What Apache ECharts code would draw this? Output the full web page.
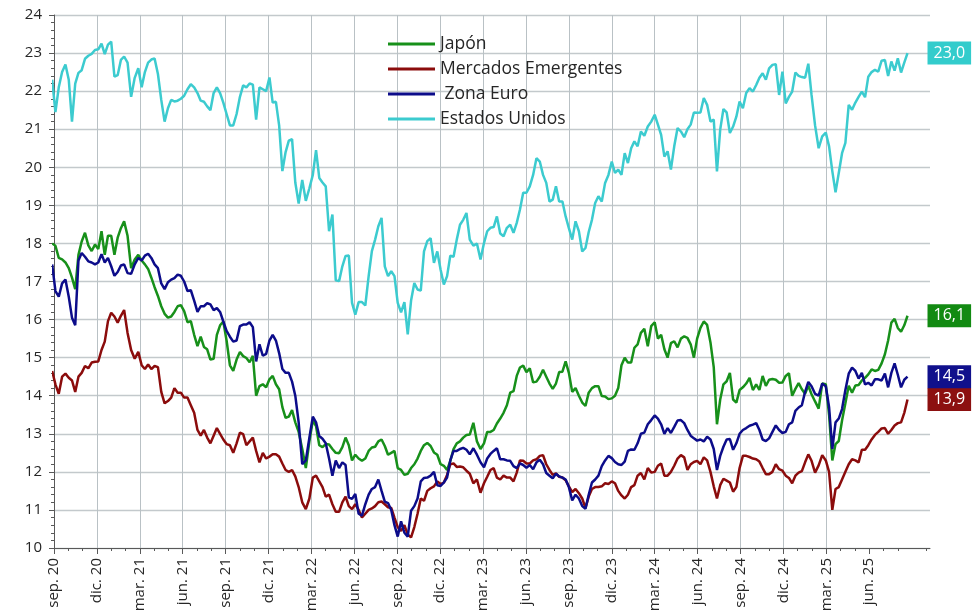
<!DOCTYPE html>
<html>
<head>
<meta charset="utf-8">
<script src="https://cdn.jsdelivr.net/npm/echarts@6/dist/echarts.min.js"></script>
<style>html,body{margin:0;padding:0;background:#fff}#c{width:975px;height:615px}</style>
</head>
<body>
<div id="c"></div>
<script>
// Weekly observations starting 2020-08-28
const startDate = '2020-08-28';
const weekCount = 261;

const quarterLabels = ['sep. 20','dic. 20','mar. 21','jun. 21','sep. 21','dic. 21','mar. 22','jun. 22','sep. 22','dic. 22',
  'mar. 23','jun. 23','sep. 23','dic. 23','mar. 24','jun. 24','sep. 24','dic. 24','mar. 25','jun. 25'];

const seriesNames = ['Japón', 'Mercados Emergentes', ' Zona Euro', 'Estados Unidos'];

const japon = [
18.0,17.94,17.62,17.58,17.5,17.35,17.1,16.8,17.7,18.05,
18.28,17.95,17.8,17.97,17.85,18.32,17.7,18.2,18.2,17.7,
18.15,18.4,18.58,18.2,17.35,17.58,17.7,17.55,17.45,17.33,
17.1,16.85,16.62,16.35,16.15,16.05,16.08,16.2,16.35,16.38,
16.22,15.93,15.96,15.6,15.3,15.55,15.28,15.22,14.95,14.97,
15.6,15.85,15.95,15.45,14.8,14.65,14.95,15.15,15.04,14.99,
14.88,15.05,14.0,14.25,14.3,14.22,14.43,14.52,14.3,14.17,
13.7,13.42,13.45,13.62,13.3,13.05,12.6,12.1,12.8,13.35,
13.2,12.7,12.65,12.73,12.72,12.6,12.5,12.49,12.65,12.9,
12.7,12.3,12.45,12.35,12.29,12.35,12.55,12.64,12.66,12.8,
12.85,12.68,12.45,12.5,12.55,12.1,12.05,11.92,11.95,12.1,
12.2,12.35,12.55,12.7,12.76,12.68,12.51,12.45,12.2,12.16,
12.05,12.29,12.6,12.75,12.8,12.9,12.97,12.98,13.29,12.8,
12.6,12.75,13.05,13.05,13.1,13.27,13.4,13.55,13.75,14.08,
14.12,14.52,14.74,14.79,14.62,14.72,14.35,14.37,14.5,14.68,
14.5,14.32,14.18,14.32,14.62,14.63,14.9,14.6,14.1,14.2,
14.0,13.82,13.73,14.08,14.2,14.25,14.25,13.99,13.98,13.91,
13.93,14.0,14.2,14.8,15.0,14.87,14.87,15.26,15.35,15.65,
15.76,15.30,15.83,15.93,15.5,15.6,15.22,15.0,15.38,15.43,
15.27,15.5,15.56,15.52,15.35,15.0,15.5,15.78,15.95,15.86,
15.4,14.75,13.25,13.9,14.3,14.38,14.6,13.9,13.82,14.15,
14.22,14.32,14.47,14.15,14.3,14.15,14.52,14.26,14.42,14.44,
14.42,14.34,14.35,14.52,14.59,14.0,14.18,14.33,14.17,14.05,
14.26,14.04,13.85,13.66,14.32,14.3,13.5,12.3,12.73,12.81,
13.35,13.8,14.26,14.08,14.27,14.28,14.4,14.47,14.56,14.69,
14.65,14.68,14.85,15.09,15.45,15.92,16.02,15.78,15.68,15.85,
16.1];

const emergentes = [
14.65,14.3,14.05,14.5,14.58,14.47,14.4,14.1,14.5,14.6,
14.78,14.72,14.87,14.89,14.9,15.2,15.42,15.96,16.18,16.08,
15.92,16.1,16.25,15.65,15.2,14.97,15.15,14.8,14.7,14.82,
14.7,14.78,14.75,14.1,13.8,13.86,13.95,14.2,14.08,14.08,
13.95,13.95,13.75,13.55,13.1,12.95,13.1,12.9,12.75,12.95,
13.15,13.0,12.85,12.73,12.7,12.5,12.75,13.03,12.99,12.7,
12.8,12.9,12.55,12.25,12.5,12.35,12.4,12.46,12.46,12.4,
12.22,12.05,12.0,12.05,11.88,11.6,11.2,11.02,11.3,11.85,
11.9,11.75,11.6,11.35,11.4,11.15,10.95,10.95,11.2,11.35,
11.1,11.02,11.15,11.0,10.8,10.9,11.0,11.04,11.1,11.2,
11.22,11.15,11.07,11.05,10.8,10.55,10.45,10.6,10.35,10.28,
10.55,10.9,11.3,11.24,11.5,11.57,11.62,11.75,11.68,11.72,
11.92,12.2,12.22,12.13,12.14,12.12,12.03,11.95,11.7,11.8,
11.45,11.7,11.87,12.05,12.1,11.85,11.8,11.9,11.85,11.85,
11.75,11.98,12.3,12.29,12.22,12.22,12.3,12.33,12.42,12.44,
12.2,12.05,11.92,11.96,11.87,11.85,11.78,11.62,11.47,11.55,
11.44,11.3,11.05,11.35,11.55,11.6,11.6,11.62,11.7,11.68,
11.75,11.7,11.5,11.38,11.3,11.4,11.6,11.65,11.9,11.97,
11.8,12.1,11.98,12.0,12.16,12.22,11.9,11.9,12.0,12.16,
12.35,12.44,12.38,12.05,12.2,12.26,12.29,12.2,12.38,12.3,
12.0,11.62,11.3,11.65,11.82,11.77,11.72,11.48,11.6,12.1,
12.42,12.42,12.39,12.35,12.33,12.27,12.1,11.94,11.94,12.0,
12.2,12.07,12.03,11.9,11.84,11.7,11.9,11.98,12.02,12.25,
12.46,12.29,11.98,12.17,12.44,12.3,12.0,11.0,11.55,11.6,
11.8,12.0,12.2,12.33,12.3,12.25,12.58,12.58,12.7,12.85,
12.97,13.05,13.14,13.15,13.0,13.1,13.22,13.28,13.3,13.55,
13.9];

const zonaEuro = [
17.45,16.75,16.6,16.95,17.05,16.6,16.05,15.85,17.55,17.75,
17.65,17.53,17.5,17.45,17.5,17.72,17.5,17.62,17.4,17.15,
17.25,17.42,17.45,17.22,17.2,17.45,17.62,17.55,17.68,17.73,
17.62,17.45,17.35,16.95,16.8,16.98,17.05,17.09,17.18,17.15,
17.0,16.75,16.77,16.5,16.2,16.35,16.35,16.43,16.4,16.25,
16.3,16.2,15.95,15.7,15.55,15.42,15.45,15.83,15.87,15.87,
15.93,15.8,14.9,15.35,15.05,15.1,15.45,15.6,15.45,15.12,
14.7,14.6,14.6,14.37,14.0,13.3,12.2,12.3,12.9,13.45,
13.3,12.94,12.87,12.75,12.35,11.9,12.3,12.1,12.25,12.18,
11.33,11.29,11.42,10.9,10.85,11.15,11.4,11.55,11.6,11.8,
11.5,11.22,11.18,11.0,10.6,10.3,10.7,10.4,10.3,10.98,
11.1,11.3,11.75,11.84,11.85,11.9,12.0,11.65,11.63,11.72,
11.85,12.3,12.55,12.55,12.6,12.63,12.58,12.46,12.62,12.45,
12.25,12.12,12.35,12.47,12.55,12.62,12.33,12.33,12.3,12.29,
12.15,12.1,12.22,12.18,12.11,12.18,12.07,12.25,12.32,12.2,
11.97,11.9,11.83,11.95,11.88,11.85,11.8,11.6,11.25,11.4,
11.3,11.1,11.03,11.4,11.72,11.8,11.9,12.15,12.3,12.42,
12.36,12.26,12.2,12.18,12.27,12.55,12.59,12.58,12.75,13.0,
13.03,13.25,13.36,13.48,13.4,13.25,13.0,13.15,13.02,13.18,
13.35,13.36,13.28,13.1,12.95,12.88,12.82,12.85,12.8,12.92,
12.85,12.6,12.05,12.42,12.66,12.85,12.86,12.58,12.75,13.0,
13.1,13.15,13.21,13.24,13.28,13.1,12.85,12.81,12.88,13.05,
13.22,13.1,13.02,13.05,13.25,13.3,13.6,13.69,13.75,14.1,
14.36,14.25,14.05,14.0,14.32,14.25,13.7,12.6,13.3,13.4,
13.65,14.15,14.58,14.74,14.65,14.45,14.6,14.3,14.34,14.27,
14.43,14.43,14.4,14.58,14.22,14.6,14.85,14.55,14.22,14.42,
14.5];

const estadosUnidos = [
22.30,21.45,22.1,22.5,22.7,22.3,21.2,22.2,22.48,22.55,
22.85,22.93,22.98,23.08,23.1,23.25,22.97,23.22,23.30,22.38,
22.42,22.82,22.91,22.75,21.85,22.35,22.6,22.1,22.5,22.75,
22.83,22.86,22.45,21.77,21.2,21.55,21.77,21.73,21.75,21.80,
21.88,22.05,22.18,22.1,21.95,21.75,21.72,21.6,21.5,21.95,
22.1,21.95,21.7,21.4,21.1,21.1,21.4,21.85,22.15,22.1,
22.2,22.17,21.25,22.1,22.05,22.0,22.36,21.7,21.72,21.1,
19.9,20.4,20.7,20.74,19.6,19.05,19.67,19.12,19.45,19.8,
20.45,19.72,19.6,19.5,18.32,18.76,17.03,17.01,17.4,17.67,
17.68,16.44,16.13,16.46,16.46,16.37,17.14,17.8,18.1,18.45,
18.67,17.4,17.14,17.27,17.14,16.44,16.19,16.46,15.61,16.5,
16.96,16.79,16.76,17.79,18.06,18.14,17.49,17.79,17.31,16.92,
17.14,17.68,17.65,18.1,18.49,18.62,18.80,18.1,17.94,18.0,
17.58,18.01,18.32,18.41,18.43,18.71,18.26,18.19,18.41,18.49,
18.28,18.54,18.89,19.33,19.33,19.5,19.8,20.24,20.15,19.8,
19.59,19.1,19.15,19.5,19.1,19.1,18.71,18.4,18.1,18.58,
18.32,17.79,17.88,18.3,18.62,19.06,19.24,19.10,19.59,19.80,
20.15,19.85,19.94,19.80,20.37,20.11,20.5,20.68,20.55,20.94,
20.83,21.07,21.2,21.38,21.12,20.85,20.28,20.42,19.94,20.55,
21.03,20.94,20.79,21.0,21.12,21.44,21.43,21.44,21.82,21.64,
21.2,21.25,19.89,20.99,21.53,21.44,20.90,21.07,21.33,21.73,
21.55,21.95,22.08,21.99,22.16,22.35,22.47,22.30,22.6,22.69,
22.71,21.90,22.51,21.68,21.85,21.99,22.49,22.4,22.37,22.35,
22.72,21.9,21.1,20.50,20.81,20.91,20.55,19.9,19.34,19.85,
20.37,20.64,21.64,21.51,21.7,21.85,21.99,21.84,22.38,22.5,
22.56,22.51,22.80,22.82,22.40,22.78,22.54,22.86,22.49,22.75,
23.0];

const lineColors = ['#17901a', '#8b0c0c', '#0c0c8a', '#3ccbcf'];
const boxColors  = ['#128a12', '#8c1010', '#10108c', '#33cccc'];

// weekly dates -> position in months since 1 Sep 2020
const dates = [];
(function () {
  const d0 = new Date(startDate + 'T00:00:00Z');
  for (let i = 0; i < weekCount; i++) {
    dates.push(new Date(d0.getTime() + i * 7 * 86400000));
  }
})();
function monthPos(d) {
  const y = d.getUTCFullYear(), m = d.getUTCMonth(), day = d.getUTCDate();
  const dim = new Date(Date.UTC(y, m + 1, 0)).getUTCDate();
  return (y - 2020) * 12 + (m - 8) + (day - 1) / dim;
}
const xs = dates.map(monthPos);
const quarterTicks = quarterLabels.map(function (_, i) { return i * 3; });

const allValues = [japon, emergentes, zonaEuro, estadosUnidos];

const chart = echarts.init(document.getElementById('c'), null, { renderer: 'canvas' });
const font = '"Open Sans", "Noto Sans", sans-serif';

chart.setOption({
  animation: false,
  backgroundColor: '#ffffff',
  textStyle: { fontFamily: font },
  grid: { left: 54, right: 45, top: 15, bottom: 67, containLabel: false },
  legend: {
    orient: 'vertical',
    left: 383,
    top: 30,
    icon: 'rect',
    itemWidth: 47,
    itemHeight: 3,
    itemGap: 7,
    data: seriesNames,
    textStyle: { fontSize: 17.5, color: '#262626', fontFamily: font, lineHeight: 17 }
  },
  xAxis: {
    type: 'value',
    min: 0,
    max: 61.25,
    interval: 3,
    axisLine: { show: true, lineStyle: { color: '#595959', width: 1 } },
    axisTick: { show: true, length: 6, customValues: quarterTicks, lineStyle: { color: '#595959' } },
    minorTick: { show: true, splitNumber: 3, length: 3, lineStyle: { color: '#595959' } },
    splitLine: { show: true, showMaxLine: false, lineStyle: { color: '#b9c1c5', width: 1 } },
    axisLabel: {
      rotate: 90,
      margin: 10,
      fontSize: 15,
      color: '#262626',
      fontFamily: font,
      formatter: function (v) {
        const r = Math.round(v);
        if (Math.abs(v - r) > 1e-6 || r % 3 !== 0) return '';
        return quarterLabels[r / 3] || '';
      }
    }
  },
  yAxis: {
    type: 'value',
    min: 10,
    max: 24,
    interval: 1,
    axisLine: { show: true, lineStyle: { color: '#595959', width: 1 } },
    axisTick: { show: true, length: 5, lineStyle: { color: '#595959' } },
    minorTick: { show: true, splitNumber: 5, length: 3, lineStyle: { color: '#595959' } },
    splitLine: { show: true, lineStyle: { color: '#c3c9cc', width: 1.3 } },
    axisLabel: { fontSize: 15, color: '#262626', margin: 12, fontFamily: font }
  },
  series: seriesNames.map(function (name, k) {
    return {
      name: name,
      type: 'line',
      showSymbol: false,
      symbol: 'none',
      lineStyle: { width: 2.5, color: lineColors[k] },
      itemStyle: { color: lineColors[k] },
      data: allValues[k].map(function (v, i) { return [xs[i], v]; }),
      endLabel: {
        show: true,
        distance: 20,
        formatter: function (p) { return p.value[1].toFixed(1).replace('.', ','); },
        backgroundColor: boxColors[k],
        color: '#ffffff',
        fontSize: 16,
        lineHeight: 17,
        padding: [3, 6, 3, 6],
        fontFamily: font
      }
    };
  })
});
</script>
</body>
</html>
